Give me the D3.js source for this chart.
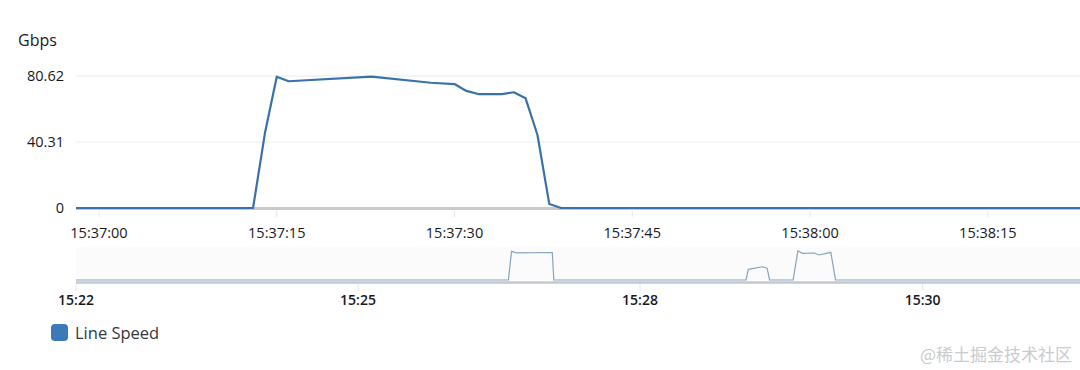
<!DOCTYPE html>
<html>
<head>
<meta charset="utf-8">
<script src="https://cdn.jsdelivr.net/npm/d3@7"></script>
<style>
  body { margin: 0; background: #fff; }
  svg { display: block; font-family: "Open Sans", "Noto Sans", sans-serif; }
</style>
</head>
<body>
<svg></svg>
<script>
// main chart: line speed, Gbps
var mainTimes = ["15:36:58", "15:37:13", "15:37:14", "15:37:15", "15:37:16", "15:37:23", "15:37:28",
                 "15:37:30", "15:37:31", "15:37:32", "15:37:34", "15:37:35", "15:37:36", "15:37:37",
                 "15:37:38", "15:37:39", "15:38:23"];
var mainValues = [0, 0, 45.6, 80.2, 77.4, 80.2, 76.5, 75.7, 71.5, 69.6, 69.6, 70.7, 67.0, 44.6, 2.4, 0, 0];
var yTicks = [0, 40.31, 80.62];
var xTicks = ["15:37:00", "15:37:15", "15:37:30", "15:37:45", "15:38:00", "15:38:15"];

// overview strip
var overTimes = ["15:22:00", "15:26:36", "15:26:38", "15:26:41", "15:27:04", "15:27:05",
                 "15:28:45", "15:28:46", "15:28:52", "15:28:54", "15:28:55",
                 "15:29:05", "15:29:07", "15:29:09", "15:29:14", "15:29:16", "15:29:21", "15:29:23", "15:31:10"];
var overValues = [0, 0, 79.5, 75.6, 76.5, 0,
                  0, 29.7, 36.8, 32.4, 0,
                  0, 80.6, 74.3, 75.1, 69.6, 77.0, 0, 0];
var overTicks = ["15:22", "15:25", "15:28", "15:30"];

var seriesName = "Line Speed";
var unitLabel = "Gbps";

var W = 1080, H = 370;
var svg = d3.select('svg').attr('width', W).attr('height', H);

var parseT = d3.timeParse("%H:%M:%S");
var parseM = d3.timeParse("%H:%M");
var t0 = parseT("15:37:00");
var sec = 1000;

var x = d3.scaleTime()
    .domain([new Date(+t0 - 1.94 * sec), new Date(+t0 + 82.78 * sec)])
    .range([76, 1080]);
var y = d3.scaleLinear().domain([0, 80.62]).range([208, 76]);

var mainData = mainTimes.map((t, i) => ({ t: parseT(t), v: mainValues[i] }));

svg.append('defs').append('clipPath').attr('id', 'clip')
    .append('rect').attr('x', 76).attr('y', 0).attr('width', 1004).attr('height', 370);

// unit
svg.append('text').attr('x', 18).attr('y', 46).attr('font-size', 16).attr('fill', '#16191f')
    .text(unitLabel);

// grid + y labels
var gy = svg.append('g');
gy.selectAll('line').data(yTicks.filter(d => d > 0)).enter().append('line')
    .attr('x1', 76).attr('x2', 1080)
    .attr('y1', d => y(d)).attr('y2', d => y(d))
    .attr('stroke', '#e9ebed').attr('stroke-width', 1);
gy.selectAll('text').data(yTicks).enter().append('text')
    .attr('x', 64).attr('y', d => y(d)).attr('dy', '0.35em')
    .attr('text-anchor', 'end').attr('font-size', 14.5).attr('fill', '#16191f')
    .text(d => d === 0 ? '0' : d3.format('.2f')(d));

// x axis baseline
svg.append('line').attr('x1', 76).attr('x2', 1080).attr('y1', 208.5).attr('y2', 208.5)
    .attr('stroke', '#c9c9c9').attr('stroke-width', 3);

var gx = svg.append('g');
gx.selectAll('line').data(xTicks).enter().append('line')
    .attr('x1', d => x(parseT(d))).attr('x2', d => x(parseT(d)))
    .attr('y1', 211).attr('y2', 217)
    .attr('stroke', '#e3e5e8');
gx.selectAll('text').data(xTicks).enter().append('text')
    .attr('x', d => x(parseT(d))).attr('y', 233).attr('dy', '0.35em')
    .attr('text-anchor', 'middle').attr('font-size', 14.5).attr('fill', '#16191f')
    .text(d => d);

// main line
var line = d3.line().x(d => x(d.t)).y(d => y(d.v));
svg.append('path').datum(mainData)
    .attr('clip-path', 'url(#clip)')
    .attr('d', line)
    .attr('fill', 'none').attr('stroke', '#3a72a8').attr('stroke-width', 2.2)
    .attr('stroke-linejoin', 'round');

// overview
var xo = d3.scaleTime()
    .domain([parseM("15:22"), parseM("15:28"), parseM("15:30")])
    .range([76, 640, 922.7]);
var yo = d3.scaleLinear().domain([0, 80.62]).range([280, 251]);
var overData = overTimes.map((t, i) => ({ t: parseT(t), v: overValues[i] }));

svg.append('rect').attr('x', 76).attr('y', 247).attr('width', 1004).attr('height', 33)
    .attr('fill', '#fbfbfc');
svg.append('line').attr('x1', 76).attr('x2', 1080).attr('y1', 282.5).attr('y2', 282.5)
    .attr('stroke', '#c3c9cf').attr('stroke-width', 2.5);

var lineO = d3.line().x(d => xo(d.t)).y(d => yo(d.v));
svg.append('path').datum(overData)
    .attr('clip-path', 'url(#clip)')
    .attr('d', lineO)
    .attr('fill', 'none').attr('stroke', '#86a3c0').attr('stroke-width', 1.2);

var go = svg.append('g');
go.selectAll('line').data(overTicks).enter().append('line')
    .attr('x1', d => xo(parseM(d))).attr('x2', d => xo(parseM(d)))
    .attr('y1', 284).attr('y2', 291)
    .attr('stroke', '#e3e5e8');
go.selectAll('text').data(overTicks).enter().append('text')
    .attr('x', d => xo(parseM(d))).attr('y', 300).attr('dy', '0.35em')
    .attr('text-anchor', 'middle').attr('font-size', 14).attr('font-weight', 600)
    .attr('fill', '#16191f')
    .text(d => d);

// legend
var lg = svg.append('g').attr('transform', 'translate(51,324)');
lg.append('rect').attr('width', 17).attr('height', 17).attr('rx', 4)
    .attr('fill', '#3a7ab8');
lg.append('text').attr('x', 24).attr('y', 9).attr('dy', '0.35em')
    .attr('font-size', 16.5).attr('fill', '#33373d')
    .text(seriesName);

// watermark
svg.append('text').attr('x', 1072).attr('y', 355).attr('dy', '0.35em')
    .attr('text-anchor', 'end').attr('font-size', 17)
    .attr('font-family', '"Noto Sans CJK SC", sans-serif')
    .attr('fill', '#c9cbce')
    .text('@稀土掘金技术社区');
</script>
</body>
</html>
